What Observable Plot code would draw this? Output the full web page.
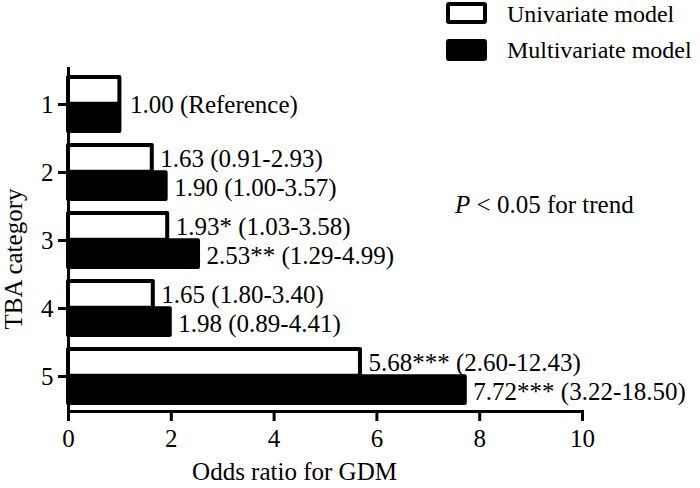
<!DOCTYPE html>
<html>
<head>
<meta charset="utf-8">
<script src="https://cdn.jsdelivr.net/npm/d3@7"></script>
<script src="https://cdn.jsdelivr.net/npm/@observablehq/plot@0.6"></script>
<style>
  html, body { margin: 0; padding: 0; background: #fff; }
  #wrap { position: relative; width: 700px; height: 488px; font-family: "Liberation Serif", "Times New Roman", serif; color: #000; }
  #wrap svg { display: block; font-family: "Liberation Serif", "Times New Roman", serif !important; }
  #wrap svg text { font-family: "Liberation Serif", "Times New Roman", serif !important; }
  .lg-box { position: absolute; left: 446px; width: 33px; height: 14px; border: 4px solid #000; border-radius: 3px; box-sizing: content-box; }
  .lg-text { position: absolute; left: 507px; font-size: 24px; line-height: 20px; white-space: nowrap; }
  #note { position: absolute; left: 455px; top: 192px; font-size: 25px; line-height: 25px; white-space: nowrap; }
</style>
</head>
<body>
<div id="wrap"></div>
<script>
// ---- data ----
const categories = ["1", "2", "3", "4", "5"];
const univariate = [1.00, 1.63, 1.93, 1.65, 5.68];
const multivariate = [1.00, 1.90, 2.53, 1.98, 7.72];
const univariateLabels = ["", "1.63 (0.91-2.93)", "1.93* (1.03-3.58)", "1.65 (1.80-3.40)", "5.68*** (2.60-12.43)"];
const multivariateLabels = ["", "1.90 (1.00-3.57)", "2.53** (1.29-4.99)", "1.98 (0.89-4.41)", "7.72*** (3.22-18.50)"];
const referenceCategory = ["1"];
const referenceValue = [1.00];
const referenceLabel = ["1.00 (Reference)"];
const xTicks = [0, 2, 4, 6, 8, 10];
const seriesNames = ["Univariate model", "Multivariate model"];
const xTitle = "Odds ratio for GDM";
const yTitle = "TBA category";
const noteItalic = "P";
const noteRest = " < 0.05 for trend";

// ---- tables ----
const uniRows = categories.map((c, i) => ({cat: c, value: univariate[i], label: univariateLabels[i]}));
const multiRows = categories.map((c, i) => ({cat: c, value: multivariate[i], label: multivariateLabels[i]}));
const refRows = referenceCategory.map((c, i) => ({cat: c, value: referenceValue[i], label: referenceLabel[i]}));

const serif = "'Liberation Serif', 'Times New Roman', serif";

const plot = Plot.plot({
  width: 700,
  height: 488,
  marginLeft: 68,
  marginRight: 118,
  marginTop: 68,
  marginBottom: 77,
  style: {fontFamily: serif, fontSize: "25px", background: "white", color: "black", overflow: "visible"},
  x: {domain: [0, 10], ticks: xTicks, label: null},
  y: {domain: categories, padding: 0, label: null},
  marks: [
    Plot.barX(uniRows, {x: "value", y: "cat", fill: "white", stroke: "black", strokeWidth: 4, strokeLinejoin: "round", insetTop: 7, insetBottom: 34.3}),
    Plot.barX(multiRows, {x: "value", y: "cat", fill: "black", stroke: "black", strokeWidth: 4, strokeLinejoin: "round", insetTop: 34.3, insetBottom: 7}),
    Plot.text(uniRows.filter(d => d.label), {x: "value", y: "cat", text: "label", textAnchor: "start", dx: 8, dy: -14, fontSize: 25, fontFamily: serif, fill: "black"}),
    Plot.text(multiRows.filter(d => d.label), {x: "value", y: "cat", text: "label", textAnchor: "start", dx: 8, dy: 15, fontSize: 25, fontFamily: serif, fill: "black"}),
    Plot.text(refRows, {x: "value", y: "cat", text: "label", textAnchor: "start", dx: 10, dy: 0, fontSize: 25, fontFamily: serif, fill: "black"}),
    Plot.frame({anchor: "bottom", stroke: "black", strokeWidth: 3}),
    Plot.frame({anchor: "left", stroke: "black", strokeWidth: 3}),
    Plot.axisX({ticks: xTicks, tickSize: 10, tickPadding: 8, strokeWidth: 3, label: null, fontSize: 25, fontFamily: serif}),
    Plot.axisY({tickSize: 10, tickPadding: 5, strokeWidth: 3, label: null, fontSize: 25, fontFamily: serif}),
    Plot.text([xTitle], {frameAnchor: "bottom", textAnchor: "middle", lineAnchor: "middle", dx: -31, dy: 60, fontSize: 25, fontFamily: serif, fill: "black"}),
    Plot.text([yTitle], {frameAnchor: "left", textAnchor: "middle", lineAnchor: "middle", rotate: -90, dx: -55, dy: 19, fontSize: 25, fontFamily: serif, fill: "black"})
  ]
});

const wrap = document.getElementById("wrap");
wrap.appendChild(plot);

// legend
const legendStyles = [{fill: "#fff", top: 2}, {fill: "#000", top: 39}];
const textTops = [3.6, 39.9];
seriesNames.forEach((name, i) => {
  const box = document.createElement("div");
  box.className = "lg-box";
  box.style.background = legendStyles[i].fill;
  box.style.top = legendStyles[i].top + "px";
  wrap.appendChild(box);
  const t = document.createElement("div");
  t.className = "lg-text";
  t.style.top = textTops[i] + "px";
  t.textContent = name;
  wrap.appendChild(t);
});

// annotation
const note = document.createElement("div");
note.id = "note";
const it = document.createElement("i");
it.textContent = noteItalic;
note.appendChild(it);
note.appendChild(document.createTextNode(noteRest));
wrap.appendChild(note);
</script>
</body>
</html>
